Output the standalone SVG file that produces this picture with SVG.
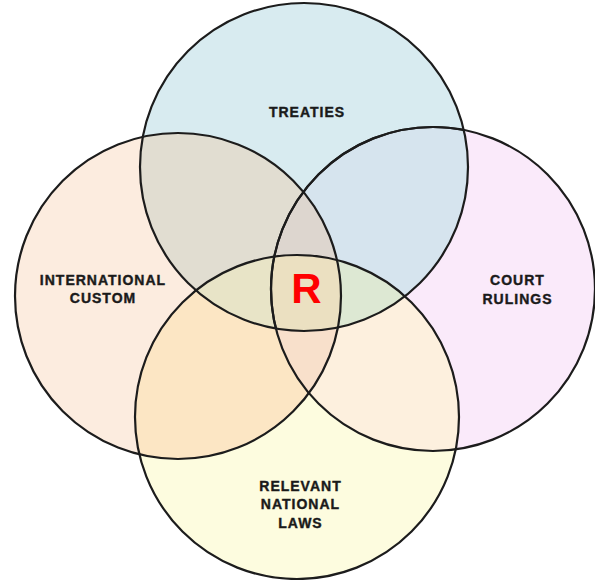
<svg xmlns="http://www.w3.org/2000/svg" width="595" height="580" viewBox="0 0 595 580">
  <style>
    .lbl { font-family: "Liberation Sans", Arial, sans-serif; font-weight: bold; font-size: 14px; letter-spacing: 1px; fill: #1a1a1a; stroke: #1a1a1a; stroke-width: 0.4; text-anchor: middle; }
    .ring { fill: none; stroke: #1c1c1c; stroke-width: 2.2; }
    .r { font-family: "Liberation Sans", Arial, sans-serif; font-weight: bold; font-size: 42px; fill: #ff0000; text-anchor: middle; }
  </style>
  <defs>
    <clipPath id="cT"><circle cx="304" cy="167" r="164"/></clipPath>
    <clipPath id="cL"><circle cx="178" cy="296" r="163"/></clipPath>
    <clipPath id="cR"><circle cx="433" cy="289" r="162"/></clipPath>
    <clipPath id="cB"><circle cx="297" cy="417" r="162"/></clipPath>
  </defs>
  <rect width="595" height="580" fill="#ffffff"/>
  <g id="fills">
    <circle cx="433" cy="289" r="162" fill="#faeafa"/>
    <circle cx="304" cy="167" r="164" fill="#d8ebf0"/>
    <circle cx="178" cy="296" r="163" fill="#fcecdf"/>
    <circle cx="297" cy="417" r="162" fill="#fdfcdf"/>
    <circle cx="304" cy="167" r="164" fill="#e1ddd1" clip-path="url(#cL)"/>
    <circle cx="304" cy="167" r="164" fill="#d6e4ee" clip-path="url(#cR)"/>
    <circle cx="297" cy="417" r="162" fill="#fce6c4" clip-path="url(#cL)"/>
    <circle cx="297" cy="417" r="162" fill="#fdf0de" clip-path="url(#cR)"/>
    <g clip-path="url(#cL)"><circle cx="304" cy="167" r="164" fill="#e8e4c7" clip-path="url(#cB)"/></g>
    <g clip-path="url(#cR)"><circle cx="304" cy="167" r="164" fill="#dde8d3" clip-path="url(#cB)"/></g>
    <g clip-path="url(#cL)"><circle cx="433" cy="289" r="162" fill="#ddd6cf" clip-path="url(#cT)"/></g>
    <g clip-path="url(#cL)"><circle cx="433" cy="289" r="162" fill="#f8e0cb" clip-path="url(#cB)"/></g>
    <g clip-path="url(#cL)"><g clip-path="url(#cR)"><circle cx="304" cy="167" r="164" fill="#ebe0c1" clip-path="url(#cB)"/></g></g>
  </g>
  <g id="connectors"></g>
  <g id="court-rulings">
    <circle class="ring" cx="433" cy="289" r="162"/>
    <circle class="ring" cx="433" cy="289" r="162" stroke="#7c858a" clip-path="url(#cT)"/>
    <text class="lbl" x="517.5" y="285">COURT</text>
    <text class="lbl" x="517.5" y="304">RULINGS</text>
  </g>
  <g id="treaties">
    <circle class="ring" cx="304" cy="167" r="164"/>
    <text class="lbl" x="307" y="117">TREATIES</text>
  </g>
  <g id="international-custom">
    <circle class="ring" cx="178" cy="296" r="163"/>
    <text class="lbl" x="103" y="285">INTERNATIONAL</text>
    <text class="lbl" x="103" y="303">CUSTOM</text>
  </g>
  <g id="relevant-national-laws">
    <circle class="ring" cx="297" cy="417" r="162"/>
    <text class="lbl" x="300.5" y="491">RELEVANT</text>
    <text class="lbl" x="300.5" y="509">NATIONAL</text>
    <text class="lbl" x="300.5" y="528">LAWS</text>
  </g>
  <g id="center-r">
    <text class="r" x="306.5" y="303">R</text>
  </g>
</svg>
